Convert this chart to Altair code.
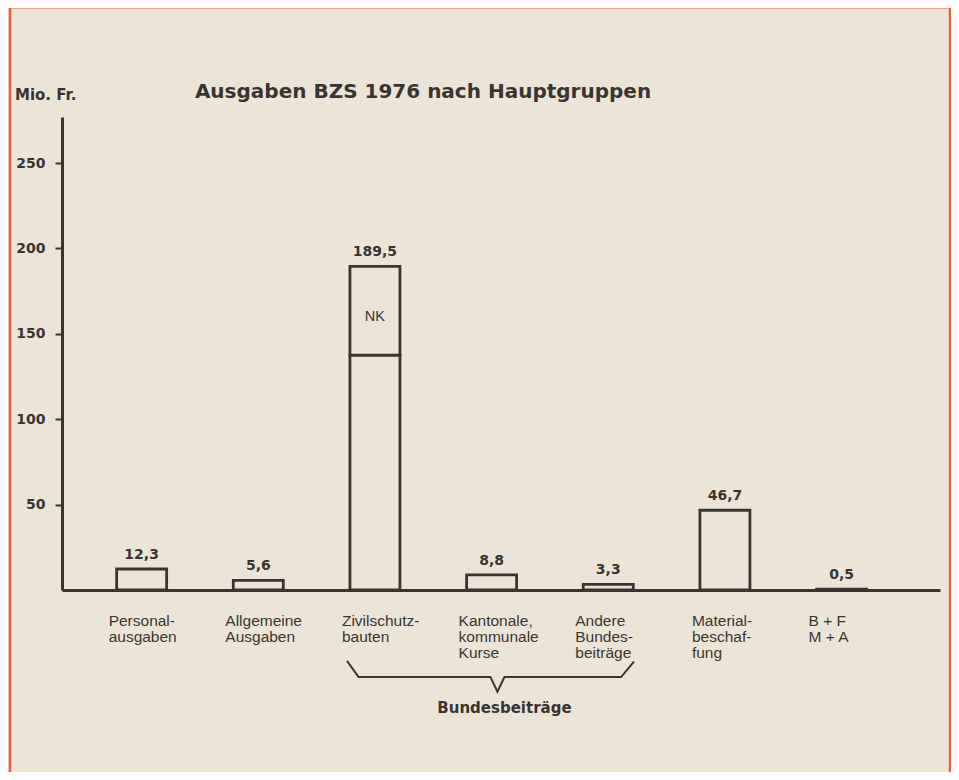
import altair as alt
import pandas as pd

# ---- data ----
categories = [
    "Personal-\nausgaben",
    "Allgemeine\nAusgaben",
    "Zivilschutz-\nbauten",
    "Kantonale,\nkommunale\nKurse",
    "Andere\nBundes-\nbeiträge",
    "Material-\nbeschaf-\nfung",
    "B + F\nM + A",
]
totals = [12.3, 5.6, 189.5, 8.8, 3.3, 46.7, 0.5]
value_labels = ["12,3", "5,6", "189,5", "8,8", "3,3", "46,7", "0,5"]
split_index = 2          # Zivilschutzbauten
split_nk = 52.0          # NK part (upper segment)
split_label = "NK"
y_ticks = [50, 100, 150, 200, 250]
brace_from = 2           # Zivilschutzbauten
brace_to = 4             # Andere Bundesbeiträge
brace_label = "Bundesbeiträge"
title_text = "Ausgaben BZS 1976 nach Hauptgruppen"
unit_text = "Mio. Fr."

# ---- styling ----
INK = "#3a3431"
PAPER = "#ece5d7"
RED = "#e8603e"
W, H = 878, 473
STEP = 118.0
D0 = -75.5 / STEP
D1 = D0 + W / STEP
YMAX = 277

idx = list(range(len(categories)))
segs = []
for i, t in zip(idx, totals):
    if i == split_index:
        segs.append({"i": i, "lo": 0, "hi": t - split_nk})
        segs.append({"i": i, "lo": t - split_nk, "hi": t})
    else:
        segs.append({"i": i, "lo": 0, "hi": t})
seg_df = pd.DataFrame(segs)
lab_df = pd.DataFrame({"i": idx, "v": totals, "lab": value_labels, "cat": categories})
nk_df = pd.DataFrame({"i": [split_index],
                      "v": [totals[split_index] - split_nk / 2],
                      "lab": [split_label]})

mid = (brace_from + brace_to) / 2
brace_df = pd.DataFrame({
    "x": [brace_from - 0.24, brace_from - 0.14, mid - 0.01, mid + 0.05, mid + 0.11, brace_to + 0.11, brace_to + 0.22],
    "y": [-41.5, -51, -51, -59.5, -51, -51, -42],
    "o": list(range(7)),
})
brace_lab_df = pd.DataFrame({"x": [mid + 0.11], "y": [-69], "lab": [brace_label]})

xs = alt.Scale(domain=[D0, D1], nice=False, zero=False)
ys = alt.Scale(domain=[0, YMAX], nice=False, zero=False)

bars = alt.Chart(seg_df).mark_bar(size=50, fill=PAPER, stroke=INK, strokeWidth=2.8).encode(
    x=alt.X("i:Q", scale=xs,
            axis=alt.Axis(labels=False, ticks=False, grid=False, title=None,
                          domainColor=INK, domainWidth=3)),
    y=alt.Y("lo:Q", scale=ys,
            axis=alt.Axis(values=y_ticks, title=None, grid=False, domainColor=INK,
                          domainWidth=3, tickColor=INK, tickWidth=2, tickSize=7,
                          labelPadding=10, labelFont="DejaVu Sans", labelFontSize=14,
                          labelFontWeight="bold", labelColor=INK)),
    y2="hi:Q",
)

vals = alt.Chart(lab_df).mark_text(font="DejaVu Sans", fontSize=14, fontWeight="bold",
                                   color=INK, baseline="alphabetic", dy=-10).encode(
    x=alt.X("i:Q", scale=xs), y=alt.Y("v:Q", scale=ys), text="lab:N")

cats = alt.Chart(lab_df).mark_text(font="Liberation Sans", fontSize=15.5, color=INK,
                                   align="left", baseline="alphabetic", dx=-33,
                                   lineBreak="\n", lineHeight=16).encode(
    x=alt.X("i:Q", scale=xs), y=alt.value(H + 36), text="cat:N")

nk = alt.Chart(nk_df).mark_text(font="Liberation Sans", fontSize=14.5, color=INK,
                                baseline="middle", dy=6).encode(
    x=alt.X("i:Q", scale=xs), y=alt.Y("v:Q", scale=ys), text="lab:N")

brace = alt.Chart(brace_df).mark_line(color=INK, strokeWidth=2).encode(
    x=alt.X("x:Q", scale=xs), y=alt.Y("y:Q", scale=ys), order="o:Q")

brace_lab = alt.Chart(brace_lab_df).mark_text(font="DejaVu Sans", fontSize=15,
                                              fontWeight="bold", color=INK,
                                              baseline="middle").encode(
    x=alt.X("x:Q", scale=xs), y=alt.Y("y:Q", scale=ys), text="lab:N")

title = alt.Chart(pd.DataFrame({"t": [title_text]})).mark_text(
    font="DejaVu Sans", fontSize=20, fontWeight="bold", color=INK, baseline="middle"
).encode(x=alt.value(361), y=alt.value(-25), text="t:N")

unit = alt.Chart(pd.DataFrame({"t": [unit_text]})).mark_text(
    font="DejaVu Sans", fontSize=15, fontWeight="bold", color=INK,
    align="left", baseline="middle"
).encode(x=alt.value(-47), y=alt.value(-22), text="t:N")

frame_left = alt.Chart(pd.DataFrame({"a": [0]})).mark_rule(color=RED, strokeWidth=2.5).encode(
    x=alt.value(-52), y=alt.value(-110), y2=alt.value(700))
frame_right = alt.Chart(pd.DataFrame({"a": [0]})).mark_rule(color=RED, strokeWidth=2.5).encode(
    x=alt.value(888), y=alt.value(-110), y2=alt.value(700))
frame_top = alt.Chart(pd.DataFrame({"a": [0]})).mark_rule(color=RED, strokeWidth=3).encode(
    x=alt.value(-53), x2=alt.value(889), y=alt.value(-110))

chart = alt.layer(
    frame_left, frame_right, frame_top, bars, vals, cats, nk, brace, brace_lab, title, unit
).properties(
    width=W, height=H,
    padding={"left": 54, "top": 117 - 8, "right": 11, "bottom": 182},
    autosize=alt.AutoSizeParams(type="none"),
    background=PAPER,
).configure_view(stroke=None)

chart.save("out.html", embed_options={"renderer": "svg", "actions": False})
